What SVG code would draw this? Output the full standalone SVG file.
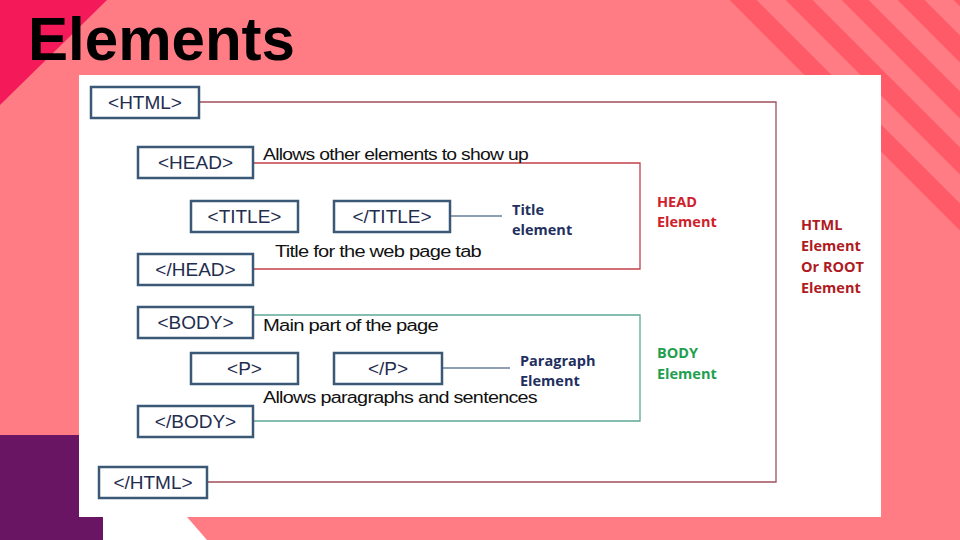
<svg xmlns="http://www.w3.org/2000/svg" width="960" height="540" viewBox="0 0 960 540">
  <defs>
    <clipPath id="slideClip"><rect x="0" y="0" width="960" height="540"/></clipPath>
    <style>
      .box { fill: #ffffff; stroke: #3b5876; stroke-width: 2.5; }
      .tag { font-family: "Liberation Sans", Arial, sans-serif; font-size: 19px; fill: #1f2d4f; text-anchor: middle; }
      .note { font-family: "Liberation Sans", Arial, sans-serif; font-size: 16px; fill: #111111; letter-spacing: -0.6px; }
      .lbl { font-family: "Open Sans", "Liberation Sans", sans-serif; font-size: 14.5px; font-weight: bold; }
      .wire { fill: none; stroke-width: 1.3; }
    </style>
  </defs>

  <!-- slide background -->
  <rect x="0" y="0" width="960" height="540" fill="#ff7c85"/>
  <g clip-path="url(#slideClip)" stroke="#ff5a68" stroke-width="19">
    <line x1="703" y1="-40" x2="1303" y2="560"/>
    <line x1="759" y1="-40" x2="1359" y2="560"/>
    <line x1="815" y1="-40" x2="1415" y2="560"/>
    <line x1="871" y1="-40" x2="1471" y2="560"/>
    <line x1="927" y1="-40" x2="1527" y2="560"/>
    <line x1="983" y1="-40" x2="1583" y2="560"/>
  </g>
  <polygon points="0,0 107,0 0,105" fill="#f41a5a"/>
  <rect x="0" y="435" width="103" height="105" fill="#6a1464"/>
  <polygon points="103,517 187,517 207,540 103,540" fill="#ffffff"/>

  <!-- title -->
  <text x="28" y="60" font-family="Liberation Sans, Arial, sans-serif" font-size="62" font-weight="bold" fill="#000000" textLength="267" lengthAdjust="spacingAndGlyphs">Elements</text>

  <!-- content panel -->
  <rect x="79" y="75" width="802" height="442" fill="#ffffff"/>

  <!-- connectors -->
  <g id="connectors">
    <polyline class="wire" stroke="#a04f58" points="199,102 776,102 776,482 207,482"/>
    <polyline class="wire" stroke="#c2404e" points="253,163 640,163 640,269 253,269"/>
    <polyline class="wire" stroke="#5fa896" points="253,315 640,315 640,421 253,421"/>
    <line class="wire" stroke="#6a7f9a" x1="450" y1="216" x2="502" y2="216"/>
    <line class="wire" stroke="#6a7f9a" x1="442" y1="368" x2="510" y2="368"/>
  </g>

  <!-- element boxes -->
  <g id="html-open"><rect class="box" x="91" y="87" width="108" height="31"/><text class="tag" x="145" y="109">&lt;HTML&gt;</text></g>
  <g id="head-open"><rect class="box" x="138" y="147" width="115" height="31"/><text class="tag" x="195.5" y="169">&lt;HEAD&gt;</text></g>
  <g id="title-open"><rect class="box" x="191" y="201" width="107" height="31"/><text class="tag" x="244.5" y="223">&lt;TITLE&gt;</text></g>
  <g id="title-close"><rect class="box" x="334" y="201" width="116" height="31"/><text class="tag" x="392" y="223">&lt;/TITLE&gt;</text></g>
  <g id="head-close"><rect class="box" x="138" y="254" width="115" height="31"/><text class="tag" x="195.5" y="276">&lt;/HEAD&gt;</text></g>
  <g id="body-open"><rect class="box" x="138" y="307" width="115" height="31"/><text class="tag" x="195.5" y="329">&lt;BODY&gt;</text></g>
  <g id="p-open"><rect class="box" x="191" y="353" width="107" height="31"/><text class="tag" x="244.5" y="375">&lt;P&gt;</text></g>
  <g id="p-close"><rect class="box" x="334" y="353" width="108" height="31"/><text class="tag" x="388" y="375">&lt;/P&gt;</text></g>
  <g id="body-close"><rect class="box" x="138" y="406" width="115" height="31"/><text class="tag" x="195.5" y="428">&lt;/BODY&gt;</text></g>
  <g id="html-close"><rect class="box" x="99" y="467" width="108" height="31"/><text class="tag" x="153" y="489">&lt;/HTML&gt;</text></g>

  <!-- annotations -->
  <g id="notes">
    <text class="note" x="263" y="160" textLength="265" lengthAdjust="spacingAndGlyphs">Allows other elements to show up</text>
    <text class="note" x="275" y="257" textLength="206" lengthAdjust="spacingAndGlyphs">Title for the web page tab</text>
    <text class="note" x="263" y="331" textLength="175" lengthAdjust="spacingAndGlyphs">Main part of the page</text>
    <text class="note" x="263" y="403" textLength="274" lengthAdjust="spacingAndGlyphs">Allows paragraphs and sentences</text>
  </g>

  <!-- group labels -->
  <g id="title-label" class="lbl" fill="#1f3060">
    <text x="512" y="215">Title</text>
    <text x="512" y="235">element</text>
  </g>
  <g id="paragraph-label" class="lbl" fill="#1f3060">
    <text x="520" y="366">Paragraph</text>
    <text x="520" y="386">Element</text>
  </g>
  <g id="head-label" class="lbl" fill="#d0202c">
    <text x="657" y="207">HEAD</text>
    <text x="657" y="227">Element</text>
  </g>
  <g id="body-label" class="lbl" fill="#1fa050">
    <text x="657" y="358">BODY</text>
    <text x="657" y="379">Element</text>
  </g>
  <g id="html-label" class="lbl" fill="#b01a22">
    <text x="801" y="230">HTML</text>
    <text x="801" y="251">Element</text>
    <text x="801" y="272">Or ROOT</text>
    <text x="801" y="293">Element</text>
  </g>
</svg>
